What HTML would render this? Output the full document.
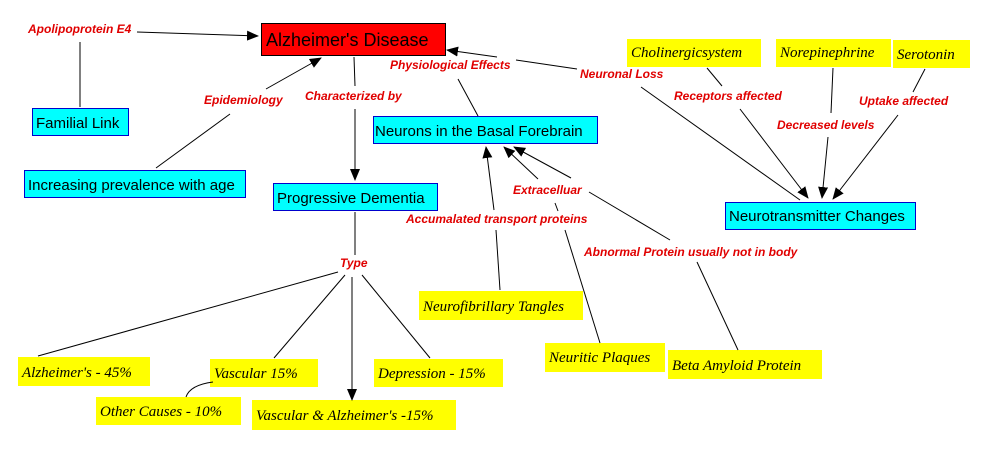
<!DOCTYPE html>
<html><head><meta charset="utf-8"><style>
body{margin:0;background:#fff;width:989px;height:450px;overflow:hidden}
svg{display:block}
.l{font-family:"Liberation Sans",sans-serif;font-size:12px;font-weight:bold;font-style:italic;fill:#e00000}
.b{font-family:"Liberation Sans",sans-serif;font-size:15px;fill:#000}
.y{font-family:"Liberation Serif",serif;font-size:15px;font-style:italic;fill:#000}
line,path{stroke:#000;stroke-width:1;fill:none}
</style></head><body>
<svg width="989" height="450" viewBox="0 0 989 450">
<defs><marker id="a" markerWidth="12" markerHeight="10" refX="11" refY="5" orient="auto" markerUnits="userSpaceOnUse"><path d="M0,0 L12,5 L0,10 Z" style="fill:#000;stroke:none"/></marker></defs>
<rect x="261.5" y="23.5" width="184" height="32" fill="#f00" stroke="#000"/>
<text x="266" y="46" class="b" style="font-size:18px">Alzheimer's Disease</text>
<g fill="#0ff" stroke="#00c">
<rect x="32.5" y="108.5" width="96" height="27"/>
<rect x="24.5" y="170.5" width="221" height="27"/>
<rect x="273.5" y="183.5" width="164" height="27"/>
<rect x="373.5" y="116.5" width="224" height="27"/>
<rect x="725.5" y="202.5" width="190" height="27"/>
</g>
<text x="36" y="128" class="b">Familial Link</text>
<text x="28" y="190" class="b">Increasing prevalence with age</text>
<text x="277" y="203" class="b">Progressive Dementia</text>
<text x="375" y="136" class="b">Neurons in the Basal Forebrain</text>
<text x="729" y="221" class="b">Neurotransmitter Changes</text>
<g fill="#ff0">
<rect x="627" y="39" width="134" height="28"/>
<rect x="776" y="39" width="115" height="28"/>
<rect x="893" y="40" width="77" height="28"/>
<rect x="419" y="291" width="164" height="29"/>
<rect x="545" y="343" width="120" height="29"/>
<rect x="668" y="350" width="154" height="29"/>
<rect x="18" y="357" width="132" height="29"/>
<rect x="210" y="359" width="108" height="28"/>
<rect x="374" y="359" width="129" height="28"/>
<rect x="96" y="397" width="145" height="28"/>
<rect x="252" y="400" width="204" height="30"/>
</g>
<text x="631" y="57" class="y">Cholinergicsystem</text>
<text x="780" y="57" class="y">Norepinephrine</text>
<text x="897" y="59" class="y">Serotonin</text>
<text x="423" y="311" class="y">Neurofibrillary Tangles</text>
<text x="549" y="362" class="y">Neuritic Plaques</text>
<text x="672" y="370" class="y">Beta Amyloid Protein</text>
<text x="22" y="377" class="y">Alzheimer's - 45%</text>
<text x="214" y="378" class="y">Vascular 15%</text>
<text x="378" y="378" class="y">Depression - 15%</text>
<text x="100" y="416" class="y">Other Causes - 10%</text>
<text x="256" y="420" class="y">Vascular &amp; Alzheimer's -15%</text>
<text x="28" y="33" class="l">Apolipoprotein E4</text>
<text x="204" y="104" class="l">Epidemiology</text>
<text x="305" y="100" class="l">Characterized by</text>
<text x="390" y="69" class="l">Physiological Effects</text>
<text x="580" y="78" class="l">Neuronal Loss</text>
<text x="674" y="100" class="l">Receptors affected</text>
<text x="777" y="129" class="l">Decreased levels</text>
<text x="859" y="105" class="l">Uptake affected</text>
<text x="513" y="194" class="l">Extracelluar</text>
<text x="406" y="223" class="l">Accumalated transport proteins</text>
<text x="584" y="256" class="l">Abnormal Protein usually not in body</text>
<text x="340" y="267" class="l">Type</text>
<line x1="137" y1="32" x2="258" y2="36" marker-end="url(#a)"/>
<line x1="80" y1="42" x2="80" y2="107"/>
<line x1="156" y1="168" x2="230" y2="114"/>
<line x1="266" y1="89" x2="321" y2="58" marker-end="url(#a)"/>
<line x1="354" y1="57" x2="355" y2="86"/>
<line x1="355" y1="109" x2="355" y2="180" marker-end="url(#a)"/>
<line x1="478" y1="116" x2="458" y2="79"/>
<line x1="516" y1="60" x2="577" y2="69"/>
<line x1="497" y1="57" x2="447" y2="50" marker-end="url(#a)"/>
<line x1="641" y1="87" x2="800" y2="200"/>
<line x1="707" y1="68" x2="722" y2="86"/>
<line x1="740" y1="109" x2="808" y2="198" marker-end="url(#a)"/>
<line x1="833" y1="68" x2="831" y2="113"/>
<line x1="828" y1="137" x2="822" y2="198" marker-end="url(#a)"/>
<line x1="925" y1="69" x2="913" y2="92"/>
<line x1="898" y1="115" x2="833" y2="199" marker-end="url(#a)"/>
<line x1="500" y1="290" x2="496" y2="230"/>
<line x1="494" y1="210" x2="486" y2="147" marker-end="url(#a)"/>
<line x1="538" y1="179" x2="504" y2="147" marker-end="url(#a)"/>
<line x1="571" y1="178" x2="514" y2="147" marker-end="url(#a)"/>
<line x1="555" y1="203" x2="558" y2="211"/>
<line x1="565" y1="230" x2="600" y2="343"/>
<line x1="589" y1="192" x2="670" y2="240"/>
<line x1="697" y1="262" x2="738" y2="350"/>
<line x1="355" y1="212" x2="355" y2="255"/>
<line x1="338" y1="272" x2="38" y2="356"/>
<line x1="345" y1="275" x2="274" y2="358"/>
<line x1="352" y1="277" x2="352" y2="400" marker-end="url(#a)"/>
<line x1="362" y1="275" x2="430" y2="358"/>
<path d="M186,397 Q190,385 213,382"/>
</svg>
</body></html>
